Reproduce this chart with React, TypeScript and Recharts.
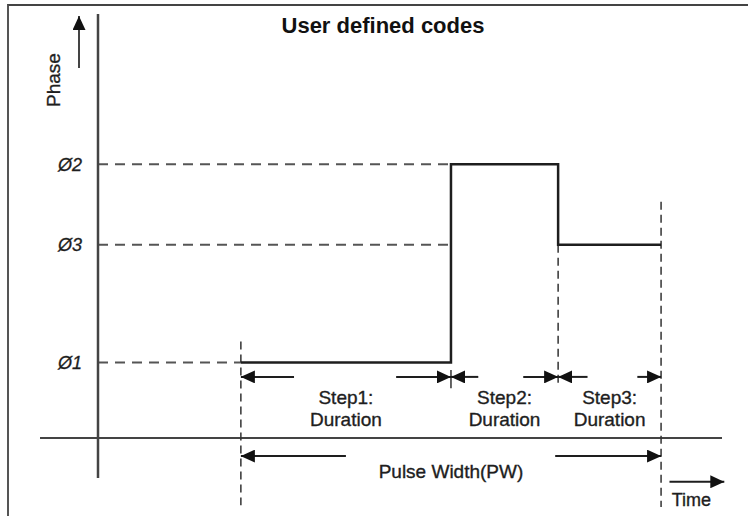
import React from 'react';
import { ComposedChart, Line, XAxis, YAxis, ReferenceLine, ReferenceDot } from 'recharts';

// phase levels (y units) and their labels
const phaseLabels = ['Ø1', 'Ø2', 'Ø3'];
const phaseValues = [1, 3.63, 2.56];

// time edges of the pulse: start, end of step1, end of step2, end of step3
const stepEdges = [6.8, 16.8, 21.9, 26.8];
const stepPhases = [1, 3.63, 2.56, 2.56];
const stepNames = ['Step1:', 'Step2:', 'Step3:'];

// annotation arrows: [left tail, right tail] for every step, in time units
const stepArrowTails = [
  [9.33, 14.19],
  [18.1, 20.24],
  [23.3, 25.67],
];
const pulseArrowTails = [11.8, 21.76];
const timeArrow = [27.2, 29.81];

// rows of annotations, in phase units
const stepArrowRow = 0.81;
const stepLabelRows = [0.543, 0.252];
const pulseArrowRow = -0.24;
const pulseLabelRow = -0.444;
const timeArrowRow = -0.58;
const timeLabelRow = -0.82;

// vertical dashed guides: [time, from, to]
const guides = [
  [6.8, 1.28, -0.89],
  [21.9, 2.56, 0.7],
  [26.8, 3.13, -0.915],
];

const stepData = stepEdges.map((t, i) => ({ t, phase: stepPhases[i] }));

const FONT = 'Liberation Sans, Arial, sans-serif';
const INK = '#1e1e1e';

const Arrow = (props: any) => (
  <line
    x1={props.x1}
    y1={props.y1}
    x2={props.x2}
    y2={props.y2}
    stroke={INK}
    strokeWidth={2}
    markerEnd="url(#head)"
  />
);

const arrow = (y: number, tail: number, tip: number, key: string) => (
  <ReferenceLine
    key={key}
    segment={[{ x: tail, y }, { x: tip, y }]}
    ifOverflow="visible"
    shape={Arrow}
  />
);

const textLabel = (x: number, y: number, value: string, key: string, fontSize = 19) => (
  <ReferenceDot
    key={key}
    x={x}
    y={y}
    r={0}
    stroke="none"
    ifOverflow="visible"
    label={{ value, position: 'center', fill: INK, stroke: INK, strokeWidth: 0.35, fontSize, fontFamily: FONT }}
  />
);

export default function App() {
  const tickText = (v: number) => phaseLabels[phaseValues.indexOf(v)] ?? '';

  return (
    <div style={{ position: 'absolute', left: 0, top: 0, width: 748, height: 516, background: '#fff' }}>
      <div style={{ position: 'absolute', left: 7, top: 4, right: 0, bottom: 0, borderTop: '2px solid #444', borderLeft: '2px solid #555' }} />
      <ComposedChart
        width={748}
        height={516}
        data={stepData}
        margin={{ top: 14, right: 26, bottom: 38, left: 0 }}
        style={{ position: 'absolute', left: 0, top: 0 }}
      >
        <defs>
          <marker id="head" viewBox="0 0 14 13" refX="14" refY="6.5" markerWidth="14" markerHeight="13" markerUnits="userSpaceOnUse" orient="auto">
            <path d="M0,0 L14,6.5 L0,13 z" fill="#111" />
          </marker>
        </defs>
        <XAxis dataKey="t" type="number" domain={[0, 29.7]} hide allowDataOverflow />
        <YAxis
          type="number"
          domain={[-0.53, 5.62]}
          width={98}
          ticks={[...phaseValues].sort((a, b) => a - b)}
          tickFormatter={tickText}
          tickLine={false}
          tickSize={0}
          tickMargin={16}
          axisLine={{ stroke: '#444', strokeWidth: 2.5 }}
          tick={{ fill: INK, stroke: INK, strokeWidth: 0.3, fontSize: 18, fontStyle: 'italic', fontFamily: FONT }}
          allowDataOverflow
        />

        {/* horizontal time axis, reaching left of the phase axis */}
        <ReferenceLine
          segment={[{ x: -2.76, y: 0 }, { x: 29.7, y: 0 }]}
          ifOverflow="visible"
          stroke="#444"
          strokeWidth={2}
        />

        {/* dashed guides from the phase axis to each level */}
        <ReferenceLine segment={[{ x: 0, y: phaseValues[0] }, { x: stepEdges[0], y: phaseValues[0] }]} stroke="#555" strokeWidth={2} strokeDasharray="10 7" ifOverflow="visible" />
        <ReferenceLine segment={[{ x: 0, y: phaseValues[1] }, { x: stepEdges[1], y: phaseValues[1] }]} stroke="#555" strokeWidth={2} strokeDasharray="10 7" ifOverflow="visible" />
        <ReferenceLine segment={[{ x: 0, y: phaseValues[2] }, { x: stepEdges[1], y: phaseValues[2] }]} stroke="#555" strokeWidth={2} strokeDasharray="10 7" ifOverflow="visible" />

        {guides.map(([t, a, b], i) => (
          <ReferenceLine key={`g${i}`} segment={[{ x: t, y: a }, { x: t, y: b }]} stroke="#333" strokeWidth={1.5} strokeDasharray="8 5" ifOverflow="visible" />
        ))}
        <ReferenceLine segment={[{ x: stepEdges[1], y: 0.9 }, { x: stepEdges[1], y: 0.66 }]} stroke="#333" strokeWidth={1.5} ifOverflow="visible" />

        <Line
          dataKey="phase"
          type="stepAfter"
          stroke={INK}
          strokeWidth={2.5}
          dot={false}
          isAnimationActive={false}
        />

        {stepArrowTails.map(([l, r], i) => [
          arrow(stepArrowRow, l, stepEdges[i], `sl${i}`),
          arrow(stepArrowRow, r, stepEdges[i + 1], `sr${i}`),
          textLabel((stepEdges[i] + stepEdges[i + 1]) / 2, stepLabelRows[0], stepNames[i], `st${i}`),
          textLabel((stepEdges[i] + stepEdges[i + 1]) / 2, stepLabelRows[1], 'Duration', `sd${i}`),
        ])}

        {arrow(pulseArrowRow, pulseArrowTails[0], stepEdges[0], 'pl')}
        {arrow(pulseArrowRow, pulseArrowTails[1], stepEdges[3], 'pr')}
        {textLabel((stepEdges[0] + stepEdges[3]) / 2, pulseLabelRow, 'Pulse Width(PW)', 'pw')}

        {arrow(timeArrowRow, timeArrow[0], timeArrow[1], 'time')}
        {textLabel(28.24, timeLabelRow, 'Time', 'tl', 18)}

        <text x={383} y={25} textAnchor="middle" dominantBaseline="central" fontFamily={FONT} fontWeight="bold" fontSize={22} fill="#111">
          User defined codes
        </text>
        <text x={53} y={80} transform="rotate(-90 53 80)" textAnchor="middle" dominantBaseline="central" fontFamily={FONT} fontSize={19} fill={INK} stroke={INK} strokeWidth={0.35}>
          Phase
        </text>
        <line x1={79} y1={68} x2={79} y2={16} stroke="#444" strokeWidth={2} markerEnd="url(#head)" />
      </ComposedChart>
    </div>
  );
}
